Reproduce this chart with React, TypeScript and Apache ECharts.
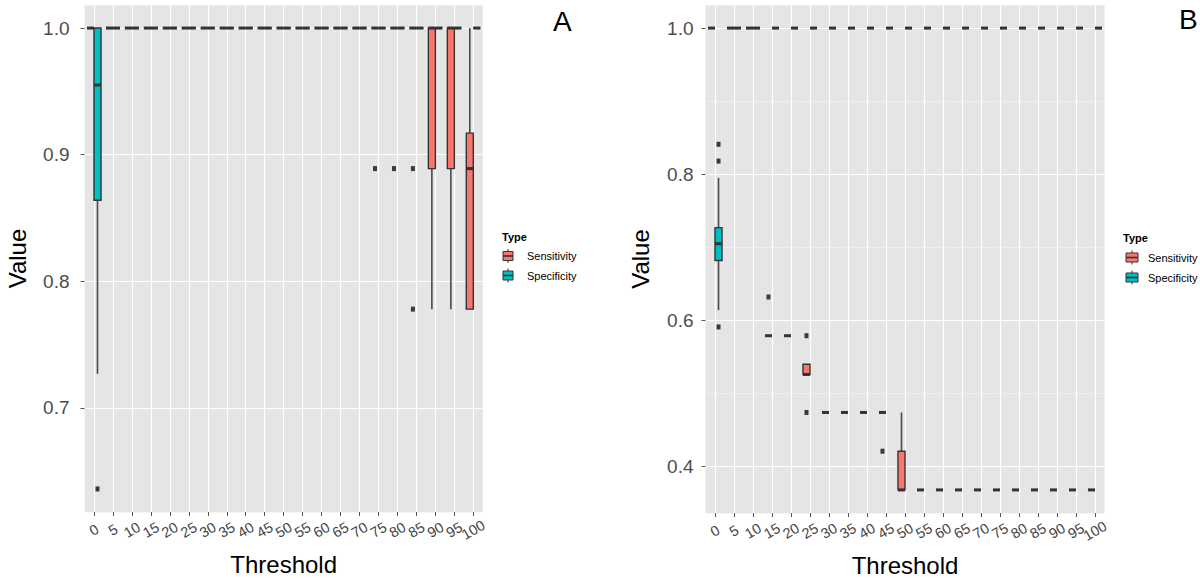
import React, { useEffect, useRef } from 'react';
import * as echarts from 'echarts';

const FONT = "'Liberation Sans', Arial, Helvetica, sans-serif";

const thresholds = ['0', '5', '10', '15', '20', '25', '30', '35', '40', '45', '50', '55', '60', '65', '70', '75', '80', '85', '90', '95', '100'];

// Each row: [lower whisker, Q1, median, Q3, upper whisker], one row per threshold
const sensitivityA = [
  [1, 1, 1, 1, 1], [1, 1, 1, 1, 1], [1, 1, 1, 1, 1], [1, 1, 1, 1, 1], [1, 1, 1, 1, 1],
  [1, 1, 1, 1, 1], [1, 1, 1, 1, 1], [1, 1, 1, 1, 1], [1, 1, 1, 1, 1], [1, 1, 1, 1, 1],
  [1, 1, 1, 1, 1], [1, 1, 1, 1, 1], [1, 1, 1, 1, 1], [1, 1, 1, 1, 1], [1, 1, 1, 1, 1],
  [1, 1, 1, 1, 1], [1, 1, 1, 1, 1], [1, 1, 1, 1, 1],
  [0.778, 0.889, 1, 1, 1],
  [0.778, 0.889, 1, 1, 1],
  [0.778, 0.778, 0.889, 0.917, 1],
];
const specificityA = [
  [0.727, 0.864, 0.955, 1, 1],
  [1, 1, 1, 1, 1], [1, 1, 1, 1, 1], [1, 1, 1, 1, 1], [1, 1, 1, 1, 1], [1, 1, 1, 1, 1],
  [1, 1, 1, 1, 1], [1, 1, 1, 1, 1], [1, 1, 1, 1, 1], [1, 1, 1, 1, 1], [1, 1, 1, 1, 1],
  [1, 1, 1, 1, 1], [1, 1, 1, 1, 1], [1, 1, 1, 1, 1], [1, 1, 1, 1, 1], [1, 1, 1, 1, 1],
  [1, 1, 1, 1, 1], [1, 1, 1, 1, 1], [1, 1, 1, 1, 1], [1, 1, 1, 1, 1], [1, 1, 1, 1, 1],
];
const outliersSensitivityA: [string, number][] = [['75', 0.889], ['80', 0.889], ['85', 0.889], ['85', 0.778]];
const outliersSpecificityA: [string, number][] = [['0', 0.636]];

const sensitivityB = [
  [1, 1, 1, 1, 1], [1, 1, 1, 1, 1], [1, 1, 1, 1, 1],
  [0.579, 0.579, 0.579, 0.579, 0.579],
  [0.579, 0.579, 0.579, 0.579, 0.579],
  [0.526, 0.526, 0.526, 0.54, 0.54],
  [0.474, 0.474, 0.474, 0.474, 0.474],
  [0.474, 0.474, 0.474, 0.474, 0.474],
  [0.474, 0.474, 0.474, 0.474, 0.474],
  [0.474, 0.474, 0.474, 0.474, 0.474],
  [0.368, 0.368, 0.368, 0.421, 0.474],
  [0.368, 0.368, 0.368, 0.368, 0.368], [0.368, 0.368, 0.368, 0.368, 0.368],
  [0.368, 0.368, 0.368, 0.368, 0.368], [0.368, 0.368, 0.368, 0.368, 0.368],
  [0.368, 0.368, 0.368, 0.368, 0.368], [0.368, 0.368, 0.368, 0.368, 0.368],
  [0.368, 0.368, 0.368, 0.368, 0.368], [0.368, 0.368, 0.368, 0.368, 0.368],
  [0.368, 0.368, 0.368, 0.368, 0.368], [0.368, 0.368, 0.368, 0.368, 0.368],
];
const specificityB = [
  [0.614, 0.682, 0.705, 0.727, 0.795],
  [1, 1, 1, 1, 1], [1, 1, 1, 1, 1], [1, 1, 1, 1, 1], [1, 1, 1, 1, 1], [1, 1, 1, 1, 1],
  [1, 1, 1, 1, 1], [1, 1, 1, 1, 1], [1, 1, 1, 1, 1], [1, 1, 1, 1, 1], [1, 1, 1, 1, 1],
  [1, 1, 1, 1, 1], [1, 1, 1, 1, 1], [1, 1, 1, 1, 1], [1, 1, 1, 1, 1], [1, 1, 1, 1, 1],
  [1, 1, 1, 1, 1], [1, 1, 1, 1, 1], [1, 1, 1, 1, 1], [1, 1, 1, 1, 1], [1, 1, 1, 1, 1],
];
const outliersSensitivityB: [string, number][] = [['15', 0.632], ['25', 0.579], ['25', 0.474], ['45', 0.421]];
const outliersSpecificityB: [string, number][] = [['0', 0.841], ['0', 0.818], ['0', 0.591]];

const yTicksA = [0.7, 0.8, 0.9, 1.0];
const yMinorA = [0.65, 0.75, 0.85, 0.95];
const yRangeA = [0.6178, 1.0182];
const yTicksB = [0.4, 0.6, 0.8, 1.0];
const yMinorB = [0.5, 0.7, 0.9];
const yRangeB = [0.3364, 1.0316];

const typeNames = ['Sensitivity', 'Specificity'];
const typeColors = ['#F8766D', '#00BFC4'];

const BOX_FRAC = 0.37;
const STROKE = '#333333';
const WHISKER = '#4a4a4a';

function boxRenderer(side: number) {
  return (_params: any, api: any) => {
    const i = api.value(0);
    const vals = [1, 2, 3, 4, 5].map((d) => api.value(d));
    const ys = vals.map((v) => api.coord([i, v])[1]);
    const cx0 = api.coord([i, vals[2]])[0];
    const bw = api.size([1, 0])[0];
    const w = bw * BOX_FRAC;
    const cx = cx0 + (side * w) / 2;
    const fill = api.visual('color');
    return {
      type: 'group',
      children: [
        { type: 'line', shape: { x1: cx, y1: ys[4], x2: cx, y2: ys[3] }, style: { stroke: WHISKER, lineWidth: 1.6 } },
        { type: 'line', shape: { x1: cx, y1: ys[1], x2: cx, y2: ys[0] }, style: { stroke: WHISKER, lineWidth: 1.6 } },
        {
          type: 'rect',
          shape: { x: cx - w / 2, y: ys[3], width: w, height: ys[1] - ys[3] },
          style: { fill, stroke: STROKE, lineWidth: 1.4 },
        },
        { type: 'line', shape: { x1: cx - w / 2, y1: ys[2], x2: cx + w / 2, y2: ys[2] }, style: { stroke: STROKE, lineWidth: 3 } },
      ],
    };
  };
}

function outlierRenderer(side: number) {
  return (_params: any, api: any) => {
    const i = api.value(0);
    const p = api.coord([i, api.value(1)]);
    const w = api.size([1, 0])[0] * BOX_FRAC;
    const cx = p[0] + (side * w) / 2;
    return {
      type: 'rect',
      shape: { x: cx - 2, y: p[1] - 2.5, width: 4, height: 5 },
      style: { fill: '#3a3a3a' },
    };
  };
}

function legendGraphic(titleX: number, titleY: number, keyX: number, keyW: number, labelX: number, rowY: number[]) {
  const els: any[] = [
    { type: 'text', x: titleX, y: titleY, style: { text: 'Type', fontSize: 11, fontWeight: 'bold', fill: '#000', fontFamily: FONT, verticalAlign: 'middle' } },
  ];
  typeNames.forEach((name, k) => {
    const cy = rowY[k];
    const cx = keyX + keyW / 2;
    els.push({ type: 'line', shape: { x1: cx, y1: cy - 7, x2: cx, y2: cy + 7 }, style: { stroke: STROKE, lineWidth: 1 } });
    els.push({ type: 'rect', shape: { x: keyX, y: cy - 4.5, width: keyW, height: 9 }, style: { fill: typeColors[k], stroke: STROKE, lineWidth: 1 } });
    els.push({ type: 'line', shape: { x1: keyX, y1: cy, x2: keyX + keyW, y2: cy }, style: { stroke: STROKE, lineWidth: 1.6 } });
    els.push({ type: 'text', x: labelX, y: cy, style: { text: name, fontSize: 11, fill: '#000', fontFamily: FONT, verticalAlign: 'middle' } });
  });
  return els;
}

export default function App() {
  const ref = useRef<HTMLDivElement>(null);
  useEffect(() => {
    if (!ref.current) return;
    const chart = echarts.init(ref.current, undefined, { renderer: 'svg' });

    const grids = [
      { left: 84.5, top: 5, width: 398.3, height: 507 },
      { left: 705.5, top: 5, width: 399, height: 508 },
    ];
    const ranges = [yRangeA, yRangeB];
    const ticks = [yTicksA, yTicksB];
    const minors = [yMinorA, yMinorB];
    const labelMargins = [15, 12];
    const nameGaps = [55, 53];

    const xAxis = [0, 1].map((p) => ({
      type: 'category',
      gridIndex: p,
      data: thresholds,
      boundaryGap: true,
      axisLine: { show: false },
      axisTick: { show: true, alignWithLabel: true, length: 4, lineStyle: { color: '#555', width: 1 } },
      axisLabel: {
        interval: 0, rotate: 30, fontSize: 14.5, color: '#444', margin: 18,
        align: 'center', verticalAlign: 'middle', fontFamily: FONT,
      },
      splitLine: { show: true, alignWithLabel: true, lineStyle: { color: '#ffffff', width: 1.2 } },
      name: 'Threshold',
      nameLocation: 'middle',
      nameGap: 40,
      nameMoveOverlap: false,
      nameTextStyle: { fontSize: 24, color: '#000', fontFamily: FONT },
    }));

    const yAxis: any[] = [];
    [0, 1].forEach((p) => {
      yAxis.push({
        type: 'value', gridIndex: p, min: ranges[p][0], max: ranges[p][1], position: 'left',
        axisLine: { show: false }, axisTick: { show: false }, axisLabel: { show: false },
        splitLine: { show: true, customValues: minors[p], lineStyle: { color: '#F2F2F2', width: 0.7 } },
      });
      yAxis.push({
        type: 'value', gridIndex: p, min: ranges[p][0], max: ranges[p][1], position: 'left',
        axisLine: { show: false },
        axisTick: { show: true, length: 4, customValues: ticks[p], lineStyle: { color: '#555', width: 1 } },
        axisLabel: {
          customValues: ticks[p], formatter: (v: number) => v.toFixed(1),
          fontSize: 19, color: '#4d4d4d', margin: labelMargins[p], fontFamily: FONT,
        },
        splitLine: { show: true, customValues: ticks[p], lineStyle: { color: '#ffffff', width: 1.2 } },
        name: 'Value',
        nameLocation: 'middle',
        nameGap: nameGaps[p],
        nameMoveOverlap: false,
        nameTextStyle: { fontSize: 24, color: '#000', fontFamily: FONT },
      });
    });

    const panels = [
      { sens: sensitivityA, spec: specificityA, oSens: outliersSensitivityA, oSpec: outliersSpecificityA },
      { sens: sensitivityB, spec: specificityB, oSens: outliersSensitivityB, oSpec: outliersSpecificityB },
    ];
    const series: any[] = [];
    panels.forEach((pd, p) => {
      const boxes = [pd.sens, pd.spec];
      const outs = [pd.oSens, pd.oSpec];
      [0, 1].forEach((k) => {
        const side = k === 0 ? -1 : 1;
        series.push({
          type: 'custom',
          name: typeNames[k],
          xAxisIndex: p,
          yAxisIndex: p * 2 + 1,
          itemStyle: { color: typeColors[k] },
          renderItem: boxRenderer(side),
          encode: { x: 0, y: [1, 2, 3, 4, 5] },
          data: boxes[k].map((r, i) => [i, ...r]),
          z: 3,
          silent: true,
        });
        series.push({
          type: 'custom',
          name: typeNames[k],
          xAxisIndex: p,
          yAxisIndex: p * 2 + 1,
          itemStyle: { color: typeColors[k] },
          renderItem: outlierRenderer(side),
          encode: { x: 0, y: 1 },
          data: outs[k].map(([t, v]) => [thresholds.indexOf(t), v]),
          z: 4,
          silent: true,
        });
      });
    });

    const graphic: any[] = [
      { type: 'text', x: 553, y: 21, style: { text: 'A', fontSize: 28, fill: '#000', fontFamily: FONT, verticalAlign: 'middle' } },
      { type: 'text', x: 1179, y: 19, style: { text: 'B', fontSize: 28, fill: '#000', fontFamily: FONT, verticalAlign: 'middle' } },
      ...legendGraphic(502, 237, 503, 10, 527, [256, 275.5]),
      ...legendGraphic(1123, 238, 1126, 12, 1148, [257.5, 277.5]),
    ];

    chart.setOption({
      animation: false,
      textStyle: { fontFamily: FONT },
      grid: grids.map((g) => ({
        ...g, show: true, backgroundColor: '#E5E5E5', borderWidth: 0, containLabel: false, outerBoundsMode: 'none',
      })),
      xAxis,
      yAxis,
      series,
      graphic,
    });
    return () => chart.dispose();
  }, []);
  return <div ref={ref} style={{ position: 'fixed', left: 0, top: 0, width: 1200, height: 579, background: '#fff' }} />;
}
